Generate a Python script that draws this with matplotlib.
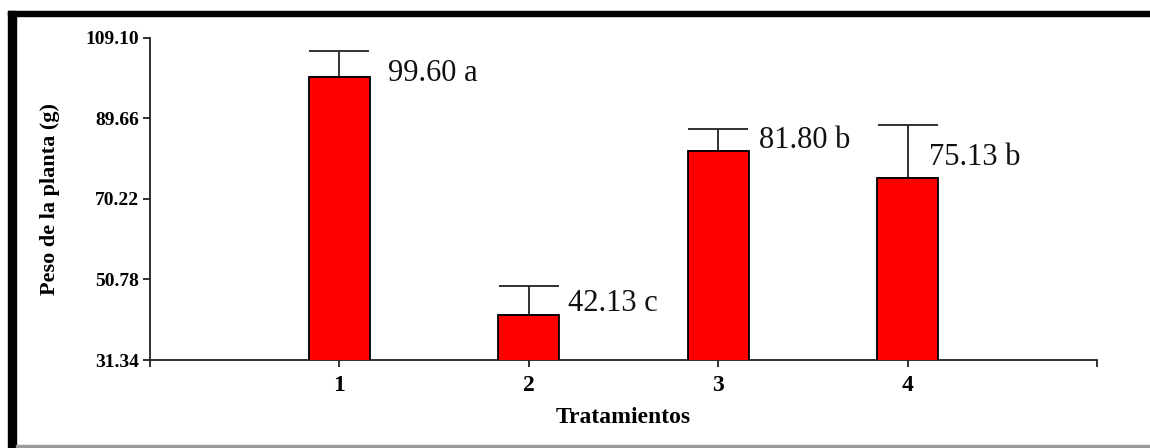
import matplotlib
matplotlib.use("Agg")
import matplotlib.pyplot as plt
from matplotlib.patches import Rectangle

# ---- data ----
treatments = ["1", "2", "3", "4"]
means = [99.60, 42.13, 81.80, 75.13]
errors = [6.2, 7.1, 5.2, 12.8]
letters = ["a", "c", "b", "b"]
yticks = [31.34, 50.78, 70.22, 89.66, 109.10]

# label placement offsets (pixels) relative to bar right edge / bar top
lab_dx = [18, 9, 10, -9]
lab_dy = [4, 12, 10, 21]

W, H = 1150, 448
fig = plt.figure(figsize=(W / 100, H / 100), dpi=100)
fig.patch.set_facecolor("white")

serif = ["Liberation Serif", "DejaVu Serif"]

ax = fig.add_axes([150 / W, 1 - 360 / H, (1097 - 150) / W, (360 - 37.7) / H])
xpos = list(range(1, len(means) + 1))
bw = 0.32
ax.bar(xpos, means, width=bw, color="#ff0000", edgecolor="black", linewidth=1.3,
       bottom=0, zorder=3)
capsize_pt = (bw * (1097 - 150) / 5) / 2 * 0.72
ax.errorbar(xpos, means, yerr=[[0] * len(errors), errors], fmt="none",
            ecolor="#222222", elinewidth=1.3, capsize=capsize_pt, capthick=1.3,
            zorder=2)

for x, m, lt, dx, dy in zip(xpos, means, letters, lab_dx, lab_dy):
    ax.annotate(f"{m:.2f} {lt}", xy=(x + bw / 2, m), xytext=(dx, dy),
                textcoords="offset pixels", ha="left", va="center",
                fontsize=22, family=serif, color="#111111", zorder=4)

ax.set_xlim(0, 5)
ax.set_ylim(yticks[0], yticks[-1])
ax.set_yticks(yticks)
ax.set_yticklabels([f"{v:.2f}" for v in yticks], fontsize=14,
                   fontweight="bold", family=serif)
ax.set_xticks([0] + xpos + [5])
ax.set_xticklabels([""] + treatments + [""], fontsize=17, fontweight="bold",
                   family=serif)
ax.tick_params(axis="both", direction="out", length=5, width=1.3, color="#222222")
ax.tick_params(axis="y", pad=3)
ax.tick_params(axis="x", pad=6)
for s in ["top", "right"]:
    ax.spines[s].set_visible(False)
for s in ["left", "bottom"]:
    ax.spines[s].set_linewidth(1.3)
    ax.spines[s].set_color("#222222")

ax.set_xlabel("Tratamientos", fontsize=17, fontweight="bold", family=serif,
              labelpad=8)
ax.set_ylabel("Peso de la planta (g)", fontsize=16, fontweight="bold",
              family=serif, labelpad=18)

# outer frame (thick top & left, thin grey bottom)
fig.patches.append(Rectangle((8 / W, 0), 8 / W, 1 - 11 / H, transform=fig.transFigure,
                             color="black", zorder=10))
fig.patches.append(Rectangle((8 / W, 1 - 16 / H), 1 - 8 / W, 5 / H,
                             transform=fig.transFigure, color="black", zorder=10))
fig.patches.append(Rectangle((16 / W, 1 - 447 / H), 1 - 16 / W, 2 / H,
                             transform=fig.transFigure, color="#9a9a9a", zorder=10))

fig.savefig("out.png", dpi=100, facecolor="white")
